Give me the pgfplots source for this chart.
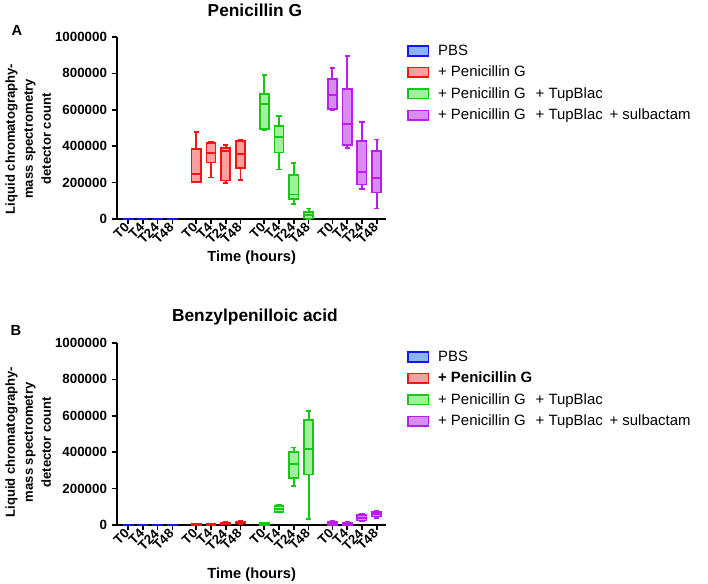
\documentclass[border=0pt]{standalone}
\usepackage{fontspec}
\setmainfont{Liberation Sans}
\usepackage{pgfplots}
\pgfplotsset{compat=1.18}
\usepgfplotslibrary{statistics}
\definecolor{bS}{RGB}{20,20,255}\definecolor{bF}{RGB}{140,180,250}
\definecolor{rS}{RGB}{245,20,20}\definecolor{rF}{RGB}{250,160,160}
\definecolor{gS}{RGB}{20,200,20}\definecolor{gF}{RGB}{160,240,160}
\definecolor{pS}{RGB}{185,30,235}\definecolor{pF}{RGB}{215,140,240}
% values in thousands of detector counts
\newcommand{\bx}[8]{\addplot[forget plot, draw=#1, fill=#2, line width=1.3pt,
  boxplot/draw direction=y,
  boxplot/every whisker/.style={line width=1.3pt, draw=#1},
  boxplot/every median/.style={line width=1.3pt, draw=#1},
  boxplot/every box/.style={line width=1.3pt, draw=#1, fill=#2},
  boxplot prepared={draw position=#3, lower whisker=#4, lower quartile=#5, median=#6,
  upper quartile=#7, upper whisker=#8, box extend=0.62, whisker extend=0.35}] coordinates {};}
\pgfplotsset{
  myaxis/.style={
    scale only axis, width=202pt, height=136.5pt,
    xmin=-0.75, xmax=17.45, ymin=0, ymax=1000,
    axis lines=left, axis line style={-, line width=1.5pt, black},
    clip=false,
    ytick={0,200,400,600,800,1000},
    yticklabels={0,200000,400000,600000,800000,1000000},
    yticklabel style={font=\fontsize{10}{12}\selectfont\bfseries},
    xtick={0,1,2,3,4.6,5.6,6.6,7.6,9.2,10.2,11.2,12.2,13.8,14.8,15.8,16.8},
    xticklabels={T0,T4,T24,T48,T0,T4,T24,T48,T0,T4,T24,T48,T0,T4,T24,T48},
    xticklabel style={rotate=45, anchor=east, inner sep=1pt,
      font=\fontsize{10}{11}\selectfont\bfseries},
    tick align=outside, major tick length=4pt,
    tick style={line width=1.2pt, black},
    ylabel={Liquid chromatography-\\mass spectrometry\\detector count},
    ylabel style={at={(axis description cs:-0.33,0.44)}, anchor=center, rotate=0,
      align=center, font=\fontsize{9.8}{13.5}\selectfont\bfseries},
    xlabel={Time (hours)},
    xlabel style={at={(axis description cs:0.5,0)}, anchor=center,
      font=\fontsize{11}{13}\selectfont\bfseries},
    title style={at={(axis description cs:0.512,1)}, anchor=center, yshift=13.75pt,
      font=\fontsize{13}{15}\selectfont\bfseries},
    legend style={at={(axis description cs:1.076,0.97)}, anchor=north west,
      draw=none, fill=none, inner sep=0pt, row sep=3.5pt,
      font=\fontsize{11.2}{13}\selectfont,
      nodes={inner sep=1.5pt}},
    legend cell align=left,
    legend image code/.code={\draw[##1, line width=1.2pt] (0pt,-3.6pt) rectangle (15.5pt,3.6pt);
      \path (21pt,0pt);},
  }
}
\newcommand{\gap}{\hspace{7.5pt}}
\begin{document}
\begin{tikzpicture}
\path[use as bounding box] (0pt,0pt) rectangle (531pt,-438pt);
\node[font=\fontsize{11}{13}\selectfont\bfseries] at (12.75pt,-22.5pt) {A};
\node[font=\fontsize{11}{13}\selectfont\bfseries] at (12pt,-247.5pt) {B};
% Panel A
\begin{axis}[myaxis, at={(87.75pt,-164.25pt)}, anchor=south west,
  title={Penicillin G}, xlabel style={yshift=-29.25pt}]
\bx{bS}{bF}{0}{0}{0}{1}{2}{2}
\bx{bS}{bF}{1}{0}{0}{1}{2}{2}
\bx{bS}{bF}{2}{0}{0}{1}{2}{2}
\bx{bS}{bF}{3}{0}{0}{1}{2}{2}
\bx{rS}{rF}{4.6}{203}{205}{247}{386}{478}
\bx{rS}{rF}{5.6}{228}{310}{362}{418}{422}
\bx{rS}{rF}{6.6}{197}{212}{375}{391}{407}
\bx{rS}{rF}{7.6}{214}{279}{356}{429}{435}
\bx{gS}{gF}{9.2}{490}{495}{633}{688}{793}
\bx{gS}{gF}{10.2}{272}{365}{451}{511}{566}
\bx{gS}{gF}{11.2}{82}{110}{135}{241}{309}
\bx{gS}{gF}{12.2}{0}{2}{22}{37}{58}
\bx{pS}{pF}{13.8}{597}{603}{683}{769}{829}
\bx{pS}{pF}{14.8}{391}{405}{520}{716}{895}
\bx{pS}{pF}{15.8}{163}{190}{259}{429}{533}
\bx{pS}{pF}{16.8}{58}{146}{226}{374}{437}
\addlegendimage{draw=bS, fill=bF}\addlegendentry{PBS}
\addlegendimage{draw=rS, fill=rF}\addlegendentry{+ Penicillin G}
\addlegendimage{draw=gS, fill=gF}\addlegendentry{+ Penicillin G\gap+ TupBlac}
\addlegendimage{draw=pS, fill=pF}\addlegendentry{+ Penicillin G\gap+ TupBlac\hspace{2pt} + sulbactam}
\end{axis}
% Panel B
\begin{axis}[myaxis, at={(87.75pt,-393.75pt)}, anchor=south west,
  title={Benzylpenilloic acid}, xlabel style={yshift=-37.5pt},
  ylabel style={at={(axis description cs:-0.33,0.455)}}]
\bx{bS}{bF}{0}{0}{0}{1}{2}{2}
\bx{bS}{bF}{1}{0}{0}{1}{2}{2}
\bx{bS}{bF}{2}{0}{0}{1}{2}{2}
\bx{bS}{bF}{3}{0}{0}{1}{2}{2}
\bx{rS}{rF}{4.6}{0}{1}{2.5}{4}{5}
\bx{rS}{rF}{5.6}{0}{1}{2.5}{4}{5}
\bx{rS}{rF}{6.6}{3}{5}{9}{13}{15}
\bx{rS}{rF}{7.6}{5}{9}{14}{19}{22}
\bx{gS}{gF}{9.2}{1}{2}{6}{10}{12}
\bx{gS}{gF}{10.2}{68}{70}{86}{105}{112}
\bx{gS}{gF}{11.2}{215}{260}{334}{400}{426}
\bx{gS}{gF}{12.2}{33}{277}{416}{578}{627}
\bx{pS}{pF}{13.8}{0}{2}{9}{16}{20}
\bx{pS}{pF}{14.8}{0}{2}{8}{14}{18}
\bx{pS}{pF}{15.8}{20}{24}{40}{53}{60}
\bx{pS}{pF}{16.8}{40}{46}{60}{73}{77}
\addlegendimage{draw=bS, fill=bF}\addlegendentry{PBS}
\addlegendimage{draw=rS, fill=rF}\addlegendentry{\bfseries + Penicillin G}
\addlegendimage{draw=gS, fill=gF}\addlegendentry{+ Penicillin G\gap+ TupBlac}
\addlegendimage{draw=pS, fill=pF}\addlegendentry{+ Penicillin G\gap+ TupBlac\hspace{2pt} + sulbactam}
\end{axis}
\end{tikzpicture}
\end{document}
